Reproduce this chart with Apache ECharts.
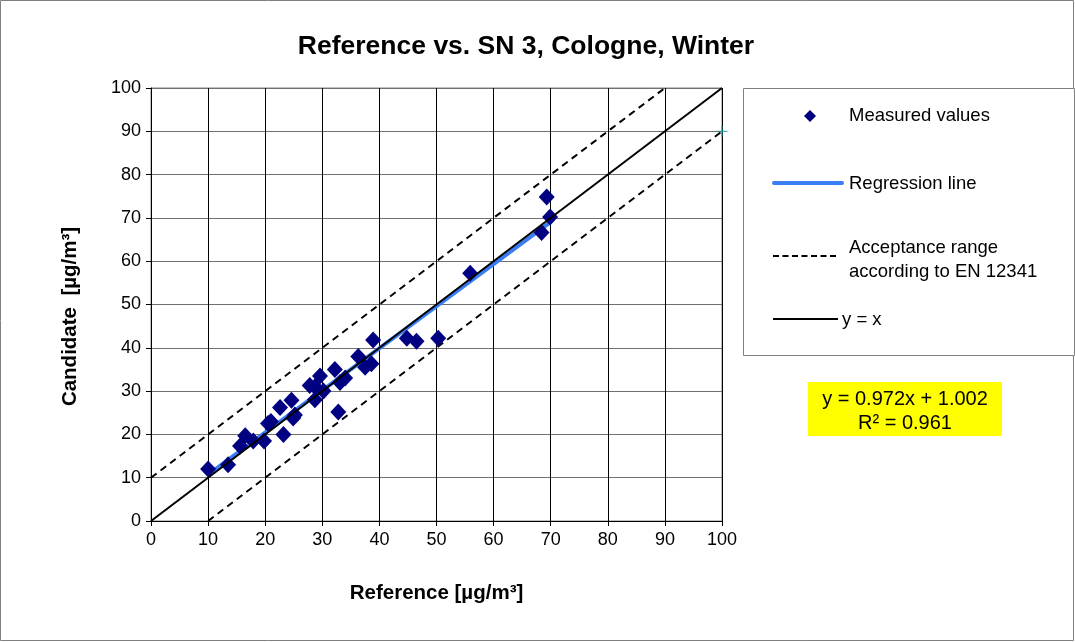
<!DOCTYPE html>
<html>
<head>
<meta charset="utf-8">
<script src="https://cdn.jsdelivr.net/npm/echarts@6/dist/echarts.min.js"></script>
<style>
html,body{margin:0;padding:0;background:#fff;}
#c{width:1075px;height:642px;}
</style>
</head>
<body>
<div id="c"></div>
<script>
const title = "Reference vs. SN 3, Cologne, Winter";
const xTitle = "Reference [µg/m³]";
const yTitle = "Candidate  [µg/m³]";
const refValues = [10.0, 13.5, 15.6, 16.5, 17.9, 19.8, 20.5, 21.0, 22.6, 23.2, 24.6, 24.9, 25.2, 27.8, 28.7, 28.7, 29.6, 30.2, 32.2, 32.8, 33.1, 34.0, 36.3, 37.5, 38.6, 38.9, 44.8, 46.5, 50.3, 55.9, 68.4, 69.3, 69.9];
const candValues = [12.0, 13.0, 17.3, 19.7, 18.5, 18.5, 22.5, 23.0, 26.2, 20.0, 27.9, 23.8, 24.5, 31.3, 31.0, 28.0, 33.5, 30.0, 35.0, 25.2, 32.0, 33.0, 38.0, 35.5, 36.3, 41.8, 42.2, 41.5, 42.2, 57.2, 66.6, 74.8, 70.2];
const slope = 0.972, intercept = 1.002, r2 = 0.961;
const axisMin = 0, axisMax = 100, axisStep = 10;
const acceptance = 10;

const pts = refValues.map((v, i) => [v, candValues[i]]);
const xMinData = Math.min(...refValues), xMaxData = Math.max(...refValues);
const regLine = [[xMinData, slope * xMinData + intercept], [xMaxData, slope * xMaxData + intercept]];
const idLine = [[axisMin, axisMin], [axisMax, axisMax]];
const upper = [[axisMin, axisMin + acceptance], [axisMax - acceptance, axisMax]];
const lower = [[axisMin + acceptance, axisMin], [axisMax, axisMax - acceptance]];

const FONT = "'Liberation Sans', Arial, sans-serif";
const chart = echarts.init(document.getElementById('c'), null, {renderer: 'canvas'});
const GL = 151, GT = 88, GW = 571, GH = 433;
const BLUE = '#3a7cf2';

chart.setOption({
  animation: false,
  backgroundColor: '#fff',
  title: {
    text: title, left: 521, top: 28, textAlign: 'center',
    textStyle: {fontFamily: FONT, fontSize: 26.5, fontWeight: 'bold', color: '#000'}
  },
  grid: {left: GL, top: GT, width: GW, height: GH, show: true, borderColor: '#808080', borderWidth: 1, backgroundColor: '#fff'},
  xAxis: {
    type: 'value', min: axisMin, max: axisMax, interval: axisStep,
    name: xTitle, nameLocation: 'middle', nameGap: 62,
    nameTextStyle: {fontFamily: FONT, fontSize: 20.5, fontWeight: 'bold', color: '#000'},
    axisLine: {show: true, onZero: false, lineStyle: {color: '#000', width: 1}},
    axisTick: {show: true, length: 5, inside: false, lineStyle: {color: '#000'}},
    axisLabel: {fontFamily: FONT, fontSize: 18, color: '#000', margin: 10},
    splitLine: {show: true, lineStyle: {color: '#000', width: 1}}
  },
  yAxis: {
    type: 'value', min: axisMin, max: axisMax, interval: axisStep,
    name: yTitle, nameLocation: 'middle', nameGap: 70, nameRotate: 90,
    nameTextStyle: {fontFamily: FONT, fontSize: 20.5, fontWeight: 'bold', color: '#000', padding: [0, 24, 0, 0]},
    axisLine: {show: true, onZero: false, lineStyle: {color: '#000', width: 1}},
    axisTick: {show: true, length: 5, lineStyle: {color: '#000'}},
    axisLabel: {fontFamily: FONT, fontSize: 18, color: '#000', margin: 10},
    splitLine: {show: true, lineStyle: {color: '#707070', width: 1}}
  },
  series: [
    {type: 'line', data: upper, symbol: 'none', silent: true, lineStyle: {color: '#000', width: 2, type: [7, 5]}, z: 2},
    {type: 'line', data: lower, symbol: 'none', silent: true, lineStyle: {color: '#000', width: 2, type: [7, 5]}, z: 2},
    {type: 'scatter', data: pts, symbol: 'diamond', symbolSize: [16, 17], itemStyle: {color: '#000080', opacity: 1}, z: 3},
    {type: 'line', data: idLine, symbol: 'none', silent: true, lineStyle: {color: '#000', width: 2}, z: 4},
    {type: 'line', data: regLine, symbol: 'none', silent: true, lineStyle: {color: BLUE, width: 4}, z: 3},
    {type: 'scatter', data: [[axisMax, axisMax - acceptance]], symbol: 'path://M5,0L5,10M0,5L10,5', symbolSize: 11, itemStyle: {color: 'none', borderColor: '#1a9a9a', borderWidth: 1, opacity: 1}, z: 5}
  ],
  graphic: [
    {type: 'rect', shape: {x: 0.5, y: 0.5, width: 1073, height: 640}, style: {fill: 'none', stroke: '#808080', lineWidth: 1}, z: -10, silent: true},
    {type: 'rect', shape: {x: 743.5, y: 88.5, width: 331, height: 267}, style: {fill: '#fff', stroke: '#808080', lineWidth: 1}, z: 10},
    {type: 'polygon', shape: {points: [[810, 110], [816, 116], [810, 122], [804, 116]]}, style: {fill: '#000080'}, z: 11},
    {type: 'text', x: 849, y: 116, style: {text: 'Measured values', font: '18.5px ' + FONT, fill: '#000', textVerticalAlign: 'middle'}, z: 11},
    {type: 'line', shape: {x1: 774, y1: 183, x2: 842, y2: 183}, style: {stroke: BLUE, lineWidth: 4, lineCap: 'round'}, z: 11},
    {type: 'text', x: 849, y: 184, style: {text: 'Regression line', font: '18.5px ' + FONT, fill: '#000', textVerticalAlign: 'middle'}, z: 11},
    {type: 'line', shape: {x1: 773, y1: 256, x2: 838, y2: 256}, style: {stroke: '#000', lineWidth: 2, lineDash: [6, 3.5]}, z: 11},
    {type: 'text', x: 849, y: 248, style: {text: 'Acceptance range', font: '18.5px ' + FONT, fill: '#000', textVerticalAlign: 'middle'}, z: 11},
    {type: 'text', x: 849, y: 272, style: {text: 'according to EN 12341', font: '18.5px ' + FONT, fill: '#000', textVerticalAlign: 'middle'}, z: 11},
    {type: 'line', shape: {x1: 773, y1: 319, x2: 838, y2: 319}, style: {stroke: '#000', lineWidth: 2}, z: 11},
    {type: 'text', x: 842, y: 320, style: {text: 'y = x', font: '18.5px ' + FONT, fill: '#000', textVerticalAlign: 'middle'}, z: 11},
    {type: 'rect', shape: {x: 808, y: 382, width: 194, height: 54}, style: {fill: '#ffff00'}, z: 10},
    {type: 'text', x: 905, y: 399, style: {text: 'y = ' + slope.toFixed(3) + 'x + ' + intercept.toFixed(3), font: '20px ' + FONT, fill: '#000', textAlign: 'center', textVerticalAlign: 'middle'}, z: 11},
    {type: 'text', x: 905, y: 423, style: {text: 'R² = ' + r2.toFixed(3), font: '20px ' + FONT, fill: '#000', textAlign: 'center', textVerticalAlign: 'middle'}, z: 11}
  ]
});
</script>
</body>
</html>
